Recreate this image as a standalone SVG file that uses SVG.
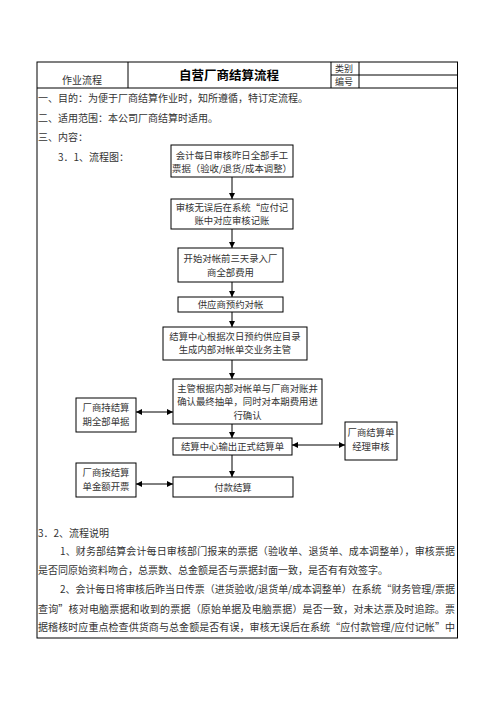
<svg xmlns="http://www.w3.org/2000/svg" width="496" height="702" viewBox="0 0 496 702">
<defs>
<marker id="ah" markerUnits="userSpaceOnUse" markerWidth="6" markerHeight="6" refX="6" refY="3" orient="auto-start-reverse"><path d="M0,0 L6,3 L0,6 z" fill="#000"/></marker>
<style>
text{font-family:"Noto Sans CJK SC","Liberation Serif",serif;fill:#333;}
.t{font-size:10px;}
.s{font-size:9px;}
.b{font-size:9.4px;text-anchor:middle;}
.box{fill:#fff;stroke:#000;stroke-width:1;}
.ln{stroke:#000;stroke-width:1;fill:none;}
.c{stroke:#000;stroke-width:1;fill:none;marker-end:url(#ah);}
.d{stroke:#000;stroke-width:1;fill:none;marker-end:url(#ah);marker-start:url(#ah);}
</style>
</defs>
<rect width="496" height="702" fill="#fff"/>
<g id="frame">
<rect x="37" y="62" width="420.5" height="576" class="ln"/>
<line x1="37" y1="88" x2="457.5" y2="88" class="ln"/>
<line x1="128" y1="62" x2="128" y2="88" class="ln"/>
<line x1="331" y1="62" x2="331" y2="88" class="ln"/>
<line x1="359" y1="62" x2="359" y2="88" class="ln"/>
<line x1="331" y1="75" x2="457.5" y2="75" class="ln"/>
<text class="t" x="62" y="84">作业流程</text>
<text x="229" y="80" style="font-size:12.5px;font-weight:bold;text-anchor:middle;fill:#000">自营厂商结算流程</text>
<text class="s" x="335" y="71.5">类别</text>
<text class="s" x="335" y="85">编号</text>
</g>
<g id="intro">
<text class="t" x="38" y="102">一、目的：为便于厂商结算作业时，知所遵循，特订定流程。</text>
<text class="t" x="38" y="122">二、适用范围：本公司厂商结算时适用。</text>
<text class="t" x="38" y="141">三、内容：</text>
<text class="t" x="58" y="161">3．1、流程图：</text>
</g>
<g id="connectors">
<line x1="232" y1="177" x2="232" y2="199" class="c"/>
<line x1="232" y1="229" x2="232" y2="248" class="c"/>
<line x1="232" y1="282" x2="232" y2="297" class="c"/>
<line x1="232" y1="312" x2="232" y2="327" class="c"/>
<line x1="232" y1="360" x2="232" y2="379" class="c"/>
<line x1="232" y1="424" x2="232" y2="438" class="c"/>
<line x1="232" y1="455" x2="232" y2="477" class="c"/>
<line x1="136" y1="412" x2="173" y2="412" class="d"/>
<line x1="292" y1="445" x2="345" y2="445" class="d"/>
<line x1="136" y1="484" x2="173" y2="484" class="d"/>
</g>
<g id="n1"><rect class="box" x="171" y="145" width="122" height="32"/><text class="b" x="232" y="159">会计每日审核昨日全部手工</text><text class="b" x="232" y="172">票据（验收/退货/成本调整）</text></g>
<g id="n2"><rect class="box" x="171" y="199" width="122" height="30"/><text class="b" x="232" y="211">审核无误后在系统“应付记</text><text class="b" x="232" y="224">账中对应审核记账</text></g>
<g id="n3"><rect class="box" x="178" y="248" width="105" height="34"/><text class="b" x="230.5" y="262">开始对帐前三天录入厂</text><text class="b" x="230.5" y="276">商全部费用</text></g>
<g id="n4"><rect class="box" x="178" y="297" width="105" height="15"/><text class="b" x="230.5" y="308">供应商预约对帐</text></g>
<g id="n5"><rect class="box" x="163" y="327" width="144" height="33"/><text class="b" x="235" y="340">结算中心根据次日预约供应目录</text><text class="b" x="235" y="353">生成内部对帐单交业务主管</text></g>
<g id="n6"><rect class="box" x="173" y="379" width="149" height="45"/><text class="b" x="247.5" y="392">主管根据内部对帐单与厂商对账并</text><text class="b" x="247.5" y="405">确认最终抽单，同时对本期费用进</text><text class="b" x="247.5" y="419">行确认</text></g>
<g id="n7"><rect class="box" x="76" y="398" width="60" height="34"/><text class="b" x="106" y="411">厂商持结算</text><text class="b" x="106" y="425">期全部单据</text></g>
<g id="n8"><rect class="box" x="173" y="438" width="119" height="17"/><text class="b" x="232.5" y="450">结算中心输出正式结算单</text></g>
<g id="n9"><rect class="box" x="345" y="422" width="52" height="38"/><text class="b" x="371" y="436">厂商结算单</text><text class="b" x="371" y="450">经理审核</text></g>
<g id="n10"><rect class="box" x="173" y="477" width="120" height="20"/><text class="b" x="233" y="491">付款结算</text></g>
<g id="n11"><rect class="box" x="76" y="463" width="60" height="34"/><text class="b" x="106" y="476">厂商按结算</text><text class="b" x="106" y="490">单金额开票</text></g>
<g id="body">
<text class="t" x="38" y="537">3．2、流程说明</text>
<text class="t" x="60" y="555" textLength="395" lengthAdjust="spacing">1、财务部结算会计每日审核部门报来的票据（验收单、退货单、成本调整单），审核票据</text>
<text class="t" x="38" y="574">是否同原始资料吻合，总票数、总金额是否与票据封面一致，是否有有效签字。</text>
<text class="t" x="60" y="593" textLength="395" lengthAdjust="spacing">2、会计每日将审核后昨当日传票（进货验收/退货单/成本调整单）在系统“财务管理/票据</text>
<text class="t" x="38" y="613" textLength="417" lengthAdjust="spacing">查询”核对电脑票据和收到的票据（原始单据及电脑票据）是否一致，对未达票及时追踪。票</text>
<text class="t" x="38" y="631" textLength="417" lengthAdjust="spacing">据稽核时应重点检查供货商与总金额是否有误，审核无误后在系统“应付款管理/应付记帐”中</text>
</g>
</svg>
